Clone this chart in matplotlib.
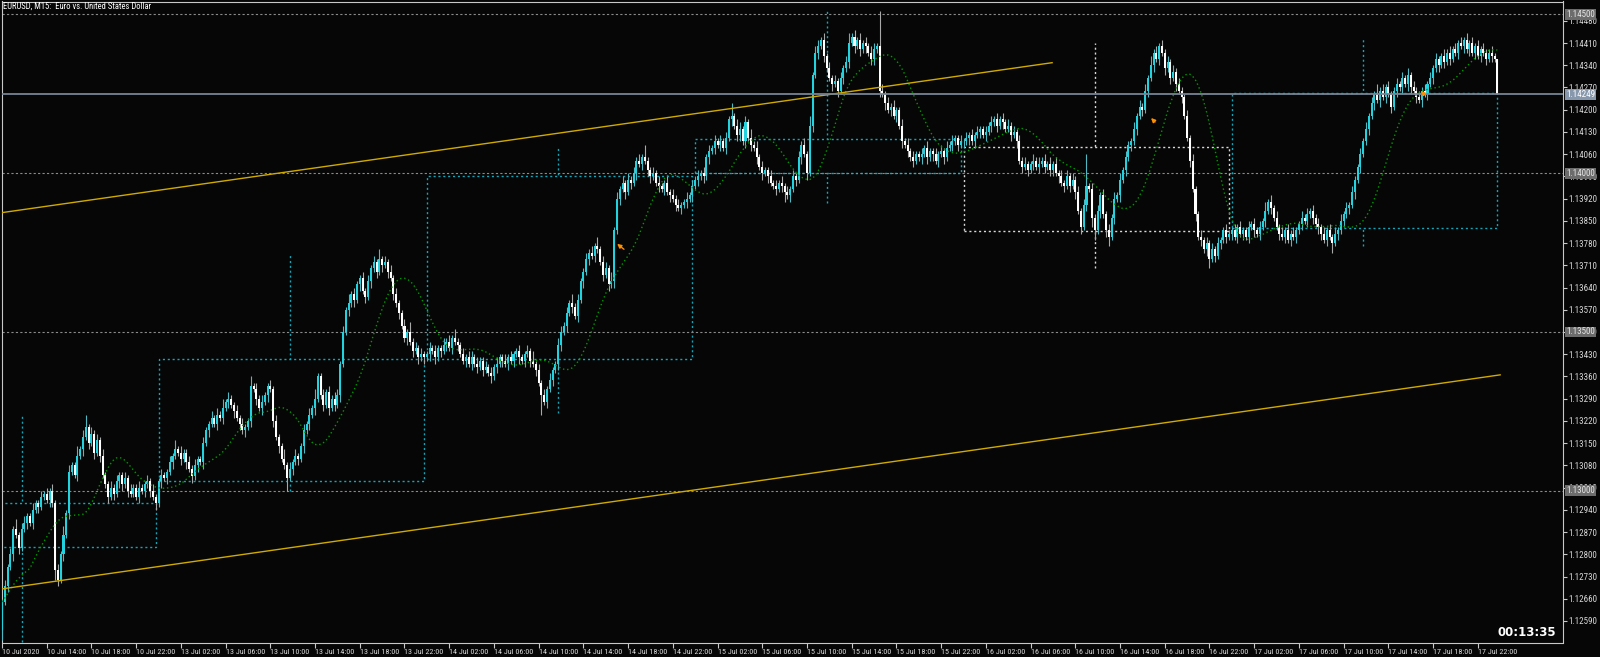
import numpy as np
import pandas as pd
import matplotlib
matplotlib.use("Agg")
import matplotlib.pyplot as plt
from matplotlib import font_manager as fm
from matplotlib.patches import Rectangle
from matplotlib.transforms import blended_transform_factory

# pick a narrow UI font if one is installed, else Liberation Sans
installed = {f.name for f in fm.fontManager.ttflist}
UI_FONT = next((f for f in ['Liberation Sans Narrow', 'Roboto Condensed', 'Open Sans Condensed',
                            'Liberation Sans'] if f in installed), 'DejaVu Sans')
plt.rcParams['font.family'] = [UI_FONT, 'DejaVu Sans']

# EURUSD M15, 10 Jul 2020 10:00 -> 17 Jul 2020 23:45
# closes in points (1e-5) above 1.12000, one row = 4 hours (16 bars)
BASE = 1.12
first_open = 560

close_10jul = [650, 700, 760, 800, 880, 860, 820, 880, 900, 920, 900, 940, 960, 950, 980, 990,
               970, 1000, 960, 750, 720, 800, 860, 930, 1060, 1080, 1050, 1110, 1130, 1170, 1200, 1150,
               1180, 1120, 1160, 1110, 1050, 1020, 980, 1010, 990, 1030, 1050, 1020, 1040, 1000, 990, 1010,
               980, 1010, 1000, 1020, 1030, 1000, 980, 960]
close_13jul = [1030, 1050, 1040, 1060, 1090, 1110, 1130, 1120, 1100, 1120, 1090, 1070, 1045, 1080, 1100, 1090,
               1150, 1190, 1210, 1230, 1210, 1240, 1230, 1260, 1280, 1290, 1270, 1250, 1230, 1210, 1190, 1200,
               1220, 1330, 1320, 1290, 1260, 1280, 1300, 1330, 1320, 1220, 1170, 1140, 1100, 1080, 1040, 1070,
               1090, 1110, 1100, 1140, 1190, 1210, 1240, 1260, 1290, 1360, 1300, 1270, 1310, 1260, 1290, 1270,
               1300, 1400, 1500, 1570, 1590, 1620, 1600, 1650, 1670, 1630, 1610, 1660, 1700, 1720, 1690, 1730,
               1710, 1720, 1690, 1670, 1620, 1590, 1560, 1520, 1480, 1500, 1470, 1440, 1450, 1420, 1430, 1420]
close_14jul = [1430, 1450, 1440, 1420, 1450, 1440, 1460, 1470, 1450, 1480, 1470, 1460, 1430, 1410, 1420, 1400,
               1420, 1400, 1390, 1410, 1380, 1390, 1370, 1360, 1390, 1400, 1420, 1410, 1400, 1420, 1410, 1430,
               1440, 1420, 1410, 1430, 1440, 1410, 1400, 1380, 1340, 1300, 1280, 1320, 1350, 1380, 1400, 1460,
               1500, 1520, 1560, 1590, 1580, 1550, 1600, 1660, 1690, 1730, 1750, 1740, 1770, 1760, 1720, 1680,
               1700, 1650, 1660, 1820, 1920, 1950, 1970, 1940, 1980, 1970, 2000, 2040, 2030, 2050, 2040, 2010,
               1990, 2000, 1970, 1960, 1950, 1970, 1940, 1930, 1920, 1900, 1890, 1900, 1910, 1920, 1930, 1960]
close_15jul = [1980, 1990, 2000, 1990, 2050, 2070, 2080, 2100, 2090, 2100, 2080, 2110, 2170, 2180, 2150, 2120,
               2140, 2100, 2160, 2110, 2090, 2080, 2050, 2020, 2000, 2010, 1990, 1970, 1960, 1950, 1970, 1960,
               1940, 1930, 1950, 1990, 1980, 2050, 2090, 2060, 2000, 2150, 2310, 2380, 2400, 2420, 2370, 2330,
               2300, 2280, 2290, 2260, 2300, 2330, 2350, 2410, 2430, 2400, 2420, 2390, 2410, 2400, 2380, 2360,
               2390, 2400, 2260, 2250, 2220, 2200, 2210, 2180, 2200, 2150, 2100, 2090, 2070, 2050, 2040, 2060,
               2050, 2060, 2080, 2050, 2070, 2060, 2040, 2060, 2070, 2050, 2080, 2090, 2100, 2110, 2090, 2100]
close_16jul = [2100, 2110, 2120, 2100, 2120, 2130, 2140, 2120, 2130, 2150, 2160, 2170, 2150, 2170, 2160, 2140,
               2150, 2120, 2130, 2100, 2040, 2020, 2030, 2010, 2030, 2040, 2020, 2030, 2040, 2020, 2030, 2010,
               2030, 2000, 1990, 1970, 1960, 1990, 1960, 1980, 1940, 1880, 1830, 1900, 1960, 1950, 1860, 1820,
               1880, 1930, 1870, 1820, 1800, 1860, 1920, 1930, 1980, 2010, 2050, 2090, 2100, 2140, 2180, 2210,
               2200, 2260, 2300, 2340, 2380, 2360, 2400, 2380, 2330, 2350, 2300, 2320, 2280, 2260, 2240, 2180,
               2110, 2040, 1950, 1870, 1800, 1790, 1760, 1780, 1730, 1760, 1740, 1780, 1790, 1820, 1800, 1810]
close_17jul = [1820, 1800, 1830, 1810, 1820, 1800, 1830, 1840, 1820, 1810, 1830, 1850, 1880, 1910, 1890, 1860,
               1830, 1810, 1800, 1820, 1790, 1810, 1800, 1820, 1840, 1860, 1850, 1870, 1880, 1860, 1840, 1830,
               1810, 1790, 1820, 1800, 1780, 1810, 1820, 1850, 1870, 1890, 1900, 1940, 1980, 2020, 2060, 2100,
               2140, 2180, 2220, 2250, 2230, 2260, 2240, 2270, 2250, 2210, 2260, 2280, 2270, 2300, 2280, 2310,
               2270, 2260, 2240, 2230, 2260, 2250, 2280, 2300, 2330, 2360, 2340, 2370, 2350, 2380, 2360, 2390,
               2380, 2410, 2400, 2420, 2390, 2410, 2380, 2400, 2370, 2390, 2380, 2360, 2380, 2370, 2360, 2249]

# wick lengths above / below the body, base-36 digit x 10 points
wick_up = ["1212131221121121", "2121213121131241", "2121211212112121", "12112121",
           "1211213121121211", "2112121312112121", "1312121121211312", "1211212131121212", "2121312112121213", "1212121121312121",
           "1212112121311212", "2121121212112121", "1211213121212112", "2121312112121312", "2131212121212141", "1212112121211212",
           "1212121212121412", "2121312121121212", "1212121213122121", "2121212312121212", "21b2121211212121", "1212112121212112",
           "1212121121212121", "2121212112121212", "121212121212a121", "2121212121211212", "1213121212121211", "2121121212121121",
           "1212112121213121", "2121212112121212", "1212121212121121", "2121312121121212", "1212121212112121", "2121212121211210"]
wick_dn = ["3121212112121211", "1213212121121212", "1212112121221211", "12121212",
           "1212121121212121", "2121121212121212", "1212121212121141", "2121212121121212", "1211212121212121", "2121212112121212",
           "1212121212121121", "2121211212121212", "1212121216121212", "2121212121212112", "1212121212121212", "2112121212121212",
           "1212121212121212", "2121212121211212", "3121212121212121", "1212121212121212", "2121212121212121", "1212121212112121",
           "2121212121212121", "1212121212121212", "2121212121212133", "1212312121212121", "2121212121212121", "1212121231212121",
           "2121212121212121", "1212121212121212", "2121312121212121", "1212121212121212", "2121212121212121", "1212121212121210"]

time_labels = ["10 Jul 2020", "10 Jul 14:00", "10 Jul 18:00", "10 Jul 22:00",
               "13 Jul 02:00", "13 Jul 06:00", "13 Jul 10:00", "13 Jul 14:00", "13 Jul 18:00", "13 Jul 22:00",
               "14 Jul 02:00", "14 Jul 06:00", "14 Jul 10:00", "14 Jul 14:00", "14 Jul 18:00", "14 Jul 22:00",
               "15 Jul 02:00", "15 Jul 06:00", "15 Jul 10:00", "15 Jul 14:00", "15 Jul 18:00", "15 Jul 22:00",
               "16 Jul 02:00", "16 Jul 06:00", "16 Jul 10:00", "16 Jul 14:00", "16 Jul 18:00", "16 Jul 22:00",
               "17 Jul 02:00", "17 Jul 06:00", "17 Jul 10:00", "17 Jul 14:00", "17 Jul 18:00", "17 Jul 22:00"]
time_label_bars = list(range(0, 529, 16))

price_ticks = ["1.12590", "1.12660", "1.12730", "1.12800", "1.12870", "1.12940", "1.13010",
               "1.13080", "1.13150", "1.13220", "1.13290", "1.13360", "1.13430", "1.13500",
               "1.13570", "1.13640", "1.13710", "1.13780", "1.13850", "1.13920", "1.13990",
               "1.14060", "1.14130", "1.14200", "1.14270", "1.14340", "1.14410", "1.14480"]
levels = ["1.14500", "1.14000", "1.13500", "1.13000"]
bid = "1.14249"

# daily boxes: first bar, last bar, low, high, colour
box_first = [-1, 56, 152, 248, 344, 440]
box_last = [55, 151, 247, 343, 439, 535]
box_low = [1.12823, 1.13030, 1.13414, 1.14000, 1.13819, 1.13828]
box_high = [1.12961, 1.13415, 1.13990, 1.14107, 1.14084, 1.14252]
box_col = ['#12a6ba', '#12a6ba', '#12a6ba', '#12a6ba', '#d8d8d8', '#12a6ba']
# day high/low verticals at 11:45
vline_bar = [7, 103, 199, 295, 391, 487]
day_high = [1.13238, 1.13742, 1.14079, 1.14514, 1.14410, 1.14430]
day_low = [1.12525, 1.13000, 1.13244, 1.13906, 1.13700, 1.13771]

# trend channel (bar, price)
upper_line = [(-0.7, 1.13875), (375.7, 1.14348)]
lower_line = [(0.0, 1.12691), (536.0, 1.13365)]

# orange signal arrows: head bar, head price, tail bar, tail price
arrows = [(219.3, 1.13783, 223.3, 1.13755),
          (410.4, 1.14180, 413.2, 1.14155),
          (507.0, 1.14265, 509.5, 1.14243)]

# ---- build OHLC ----
closes_pts = close_10jul + close_13jul + close_14jul + close_15jul + close_16jul + close_17jul
c = BASE + np.array(closes_pts) * 1e-5
o = np.concatenate([[BASE + first_open * 1e-5], c[:-1]])
up_w = np.array([int(ch, 36) * 10 for ch in "".join(wick_up)]) * 1e-5
dn_w = np.array([int(ch, 36) * 10 for ch in "".join(wick_dn)]) * 1e-5
h = np.maximum(o, c) + up_w
l = np.minimum(o, c) - dn_w
n = len(c)
idx = np.arange(n)
ma = pd.Series(c).rolling(11, min_periods=1).mean().rolling(11, min_periods=1).mean()

BG = '#060606'
CYAN = '#22d2de'
fig = plt.figure(figsize=(16, 6.57), dpi=100)
fig.patch.set_facecolor(BG)
renderer = fig.canvas.get_renderer()


def fit_size(s, max_px, start, **kw):
    size = start
    while size > 4:
        t = fig.text(0, 0, s, fontsize=size, **kw)
        w = t.get_window_extent(renderer).width
        t.remove()
        if w <= max_px:
            break
        size -= 0.1
    return size


time_fs = fit_size("16 Jul 18:00", 40, 7.0)
price_fs = fit_size("1.14480", 29, 7.0)

ax = fig.add_axes([1.5 / 1600, 14.5 / 657, 1561 / 1600, 641 / 657])
ax.set_facecolor(BG)
ax.set_xlim(-0.18, 558.3)
ax.set_ylim(1.125222, 1.145407)

# day verticals (hidden inside boxes)
for b, hi, lo, col in zip(vline_bar, day_high, day_low, box_col):
    ax.vlines(b, lo, hi, color=col, lw=1, linestyles=(0, (1.5, 2)), zorder=1)
for f, la, lo, hi, col in zip(box_first, box_last, box_low, box_high, box_col):
    ax.add_patch(Rectangle((f, lo), la - f, hi - lo, facecolor=BG, edgecolor=col,
                           lw=1, ls=(0, (1.5, 2)), zorder=1.5))

for p in levels:
    ax.axhline(float(p), color='#8a8a8a', lw=0.8, ls=(0, (2, 2)), zorder=2)

# candles
bull = c >= o
body_lo = np.minimum(o, c)
body_h = np.maximum(np.abs(c - o), 0.5e-5)
ax.vlines(idx[bull], l[bull], h[bull], color='#4fb8c2', lw=0.8, zorder=3)
ax.vlines(idx[~bull], l[~bull], h[~bull], color='#a8a8a8', lw=0.8, zorder=3)
ax.bar(idx[bull], body_h[bull], bottom=body_lo[bull], width=0.72, color=CYAN, lw=0, zorder=4)
ax.bar(idx[~bull], body_h[~bull], bottom=body_lo[~bull], width=0.72, color='#ffffff', lw=0, zorder=4)

ax.plot(idx, ma, color='#009a00', lw=1, ls=(0, (1, 2)), zorder=5)

for line in (upper_line, lower_line):
    ax.plot([line[0][0], line[1][0]], [line[0][1], line[1][1]], color='#d0aa00', lw=1, zorder=5)

ax.axhline(float(bid), color='#768494', lw=1.3, zorder=5)

for hb, hp, tb, tp in arrows:
    ax.annotate('', xy=(hb, hp), xytext=(tb, tp),
                arrowprops=dict(arrowstyle='-|>', color='#ff9000', lw=1, mutation_scale=6), zorder=6)

# axes, ticks, labels
for s in ax.spines.values():
    s.set_color('#c8c8c8')
    s.set_linewidth(0.8)
ax.yaxis.tick_right()
ax.set_yticks([float(t) for t in price_ticks])
ax.set_yticklabels(price_ticks)
ax.tick_params(axis='y', length=3, width=0.8, color='#c8c8c8', labelcolor='#d8d8d8',
               labelsize=price_fs, pad=1.5)
ax.set_xticks(time_label_bars)
ax.set_xticklabels(time_labels, ha='left')
ax.tick_params(axis='x', length=3.5, width=0.8, color='#c8c8c8', labelcolor='#d8d8d8',
               labelsize=time_fs, pad=1.5)

tr = blended_transform_factory(ax.transAxes, ax.transData)
for p in levels:
    ax.text(1.0025, float(p), p, transform=tr, ha='left', va='center', fontsize=price_fs, color='#e6e6e6',
            bbox=dict(boxstyle='square,pad=0.1', fc='#6c6c6c', ec='none'), clip_on=False, zorder=10)
ax.text(1.0025, float(bid), bid, transform=tr, ha='left', va='center', fontsize=price_fs, color='#ffffff',
        bbox=dict(boxstyle='square,pad=0.1', fc='#8898ac', ec='none'), clip_on=False, zorder=10)

fig.text(3 / 1600, 1 - 6 / 657, "EURUSD, M15:  Euro vs. United States Dollar", ha='left', va='center',
         fontsize=time_fs + 0.3, color='#ffffff')
fig.text(1556 / 1600, 1 - 632 / 657, "00:13:35", ha='right', va='center', fontsize=8.5,
         fontweight='bold', color='#ffffff', family='DejaVu Sans')

fig.savefig("out.png", dpi=100, facecolor=BG)
